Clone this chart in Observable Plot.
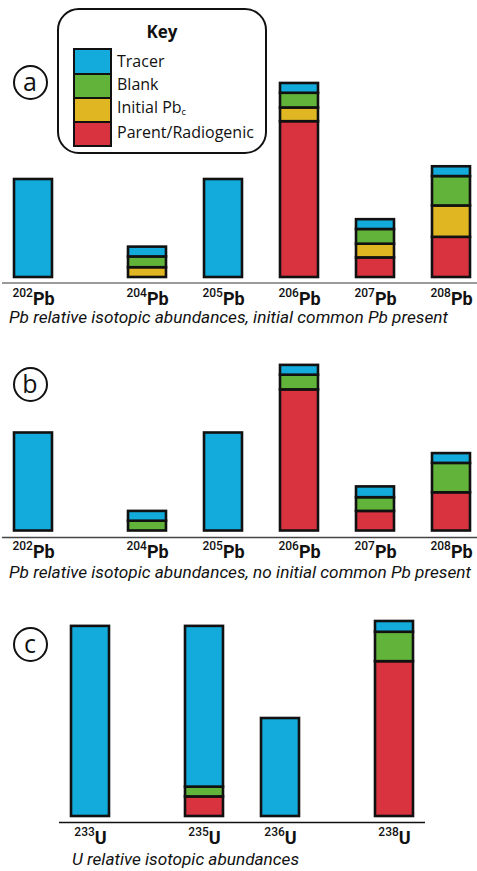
<!DOCTYPE html>
<html>
<head>
<meta charset="utf-8">
<script src="https://cdn.jsdelivr.net/npm/d3@7"></script>
<script src="https://cdn.jsdelivr.net/npm/@observablehq/plot@0.6"></script>
<style>
  html, body { margin: 0; padding: 0; background: #fff; }
  #wrap { position: relative; width: 477px; height: 871px; overflow: hidden; font-family: "Open Sans", sans-serif; color: #111; }
  .panel { position: absolute; left: 0; }
  .caption { position: absolute; font-family: Roboto, sans-serif; font-style: italic; font-size: 16px; line-height: 0.8; white-space: nowrap; transform-origin: 0 0; }
  .circ { position: absolute; width: 31px; height: 31px; border: 2px solid #111; border-radius: 50%; font-size: 25px; line-height: 29px; text-align: center; }
  #key { position: absolute; left: 57px; top: 8px; width: 206px; height: 142px; border: 2.6px solid #111; border-radius: 22px; background: #fff; z-index: 5; }
  #key .title { position: absolute; left: 0; width: 100%; top: 13px; text-align: center; font-weight: bold; font-size: 17px; line-height: 1; }
  #key .sw { position: absolute; left: 14px; top: 38px; width: 35px; border: 2.6px solid #111; }
  #key .sw div { height: 22px; border-top: 2.6px solid #111; }
  #key .sw div:first-child { border-top: none; height: 23px; }
  #key .lab { position: absolute; left: 58px; font-size: 16px; line-height: 1; white-space: nowrap; }
</style>
</head>
<body>
<div id="wrap"></div>
<script>
// ---------- data ----------
const components = ["Parent/Radiogenic", "Initial Pbc", "Blank", "Tracer"]; // bottom -> top
const componentColors = ["#da3340", "#e0b623", "#62b33a", "#12abdb"];
const keyLabels = ["Tracer", "Blank", "Initial Pb", "Parent/Radiogenic"];

const pbMasses = [202, 204, 205, 206, 207, 208];
const uMasses = [233, 235, 236, 238];

// Panel a: Pb, initial common Pb present
const aParent  = [0, 0, 0, 159, 20, 41];
const aInitial = [0, 10, 0, 14, 14, 32];
const aBlank   = [0, 11, 0, 15, 15, 30];
const aTracer  = [100, 10, 100, 10, 10, 10];

// Panel b: Pb, no initial common Pb
const bParent  = [0, 0, 0, 144, 20, 39];
const bInitial = [0, 0, 0, 0, 0, 0];
const bBlank   = [0, 10, 0, 15, 14, 30];
const bTracer  = [100, 10, 100, 10, 11, 10];

// Panel c: U
const cParent  = [0, 20, 0, 158];
const cInitial = [0, 0, 0, 0];
const cBlank   = [0, 10, 0, 30];
const cTracer  = [194, 164, 100, 11];

const captions = [
  "Pb relative isotopic abundances, initial common Pb present",
  "Pb relative isotopic abundances, no initial common Pb present",
  "U relative isotopic abundances"
];

// ---------- helpers ----------
function rows(masses, parent, initial, blank, tracer) {
  const out = [];
  masses.forEach((m, i) => {
    [parent[i], initial[i], blank[i], tracer[i]].forEach((v, k) => {
      if (v > 0) out.push({iso: String(m), comp: components[k], v});
    });
  });
  return out;
}
// spacing: each unit of mass difference adds an empty half-slot
function slotDomain(masses) {
  const d = [];
  masses.forEach((m, i) => {
    if (i > 0) for (let k = 0; k < m - masses[i - 1]; k++) d.push("gap" + m + "_" + k);
    d.push(String(m));
  });
  return d;
}

function panel({masses, data, element, top, height, zeroY, xRange, marginLeft, marginRight, ruleColor, ruleWidth, ruleDy}) {
  const svg = Plot.plot({
    width: 477, height, marginTop: 0, marginBottom: height - zeroY - 6, marginLeft, marginRight,
    style: {fontFamily: "Roboto, sans-serif", fontSize: "17px", color: "#111", background: "transparent", overflow: "visible"},
    x: {domain: slotDomain(masses), range: xRange, padding: 0, axis: "bottom", tickSize: 0, tickPadding: 9, label: null,
        tickFormat: d => d.startsWith("gap") ? "" : d + element},
    y: {domain: [0, 100], range: [zeroY, zeroY - 98], axis: null},
    color: {domain: components, range: componentColors},
    marks: [
      Plot.ruleY([0], {dy: ruleDy, stroke: ruleColor, strokeWidth: ruleWidth}),
      Plot.barY(data, {x: "iso", y: "v", fill: "comp", stroke: "#111", strokeWidth: 2.6})
    ]
  });
  svg.classList.add("panel");
  svg.style.top = top + "px";
  // superscript mass numbers in the tick labels
  svg.querySelectorAll('[aria-label^="x-axis"] text').forEach(t => {
    const s = t.textContent;
    const m = s.match(/^(\d+)(\D+)$/);
    if (!m) return;
    t.setAttribute("font-size", "17px");
    t.setAttribute("font-family", "Roboto, sans-serif");
    t.textContent = "";
    const ns = "http://www.w3.org/2000/svg";
    const sup = document.createElementNS(ns, "tspan");
    sup.setAttribute("font-size", "12px");
    sup.setAttribute("font-weight", "500");
    sup.setAttribute("dy", "-8");
    sup.textContent = m[1];
    const main = document.createElementNS(ns, "tspan");
    main.setAttribute("font-weight", "bold");
    main.setAttribute("font-size", "18px");
    main.setAttribute("dy", "8");
    main.textContent = m[2];
    t.appendChild(sup);
    t.appendChild(main);
  });
  return svg;
}

const wrap = document.getElementById("wrap");

wrap.appendChild(panel({masses: pbMasses, data: rows(pbMasses, aParent, aInitial, aBlank, aTracer), element: "Pb",
  top: 0, height: 310, zeroY: 277, xRange: [10.2, 473.9], marginLeft: 2, marginRight: 0, ruleColor: "#7a7a7a", ruleWidth: 1.7, ruleDy: 5.5}));
wrap.appendChild(panel({masses: pbMasses, data: rows(pbMasses, bParent, bInitial, bBlank, bTracer), element: "Pb",
  top: 330, height: 240, zeroY: 200.5, xRange: [10.2, 473.9], marginLeft: 2, marginRight: 0, ruleColor: "#444", ruleWidth: 1.3, ruleDy: 6.5}));
wrap.appendChild(panel({masses: uMasses, data: rows(uMasses, cParent, cInitial, cBlank, cTracer), element: "U",
  top: 600, height: 255, zeroY: 216, xRange: [68.2, 416.2], marginLeft: 59, marginRight: 52, ruleColor: "#111", ruleWidth: 1.3, ruleDy: 6}));

// captions (baseline positions); Roboto, line-height 0.8
const capPos = [[9, 323.3, 439], [9, 578.3, 462], [72, 865, 227]];
captions.forEach((c, i) => {
  const el = document.createElement("div");
  el.className = "caption";
  el.textContent = c;
  el.style.left = capPos[i][0] + "px";
  wrap.appendChild(el);
  // place the baseline exactly using a zero-size inline-block probe
  const probe = document.createElement("span");
  probe.style.display = "inline-block";
  probe.style.width = "0";
  probe.style.height = "0";
  el.appendChild(probe);
  el.style.top = "0px";
  const base = probe.getBoundingClientRect().bottom - el.getBoundingClientRect().top;
  el.style.top = (capPos[i][1] - base) + "px";
  const w = el.getBoundingClientRect().width;
  el.style.transform = `scaleX(${capPos[i][2] / w})`;
});

// panel letters
[["a", 82.5], ["b", 384.3], ["c", 644]].forEach(([l, cy]) => {
  const el = document.createElement("div");
  el.className = "circ";
  el.textContent = l;
  el.style.left = (30 - 17.5) + "px";
  el.style.top = (cy - 17.5) + "px";
  wrap.appendChild(el);
});

// key
const key = document.createElement("div");
key.id = "key";
key.innerHTML = '<div class="title">Key</div>';
const sw = document.createElement("div");
sw.className = "sw";
const keyColors = componentColors.slice().reverse();
keyColors.forEach(c => {
  const d = document.createElement("div");
  d.style.background = c;
  sw.appendChild(d);
});
key.appendChild(sw);
const baselines = [67.7, 91, 114.3, 139];
keyLabels.forEach((l, i) => {
  const d = document.createElement("div");
  d.className = "lab";
  d.textContent = l;
  if (i === 2) {
    const s = document.createElement("sub");
    s.textContent = "c";
    s.style.fontSize = "9px";
    s.style.verticalAlign = "-2px";
    d.appendChild(s);
  }
  d.style.top = (baselines[i] - 10.6 - 16 * 0.888) + "px";
  key.appendChild(d);
});
wrap.appendChild(key);
</script>
</body>
</html>
